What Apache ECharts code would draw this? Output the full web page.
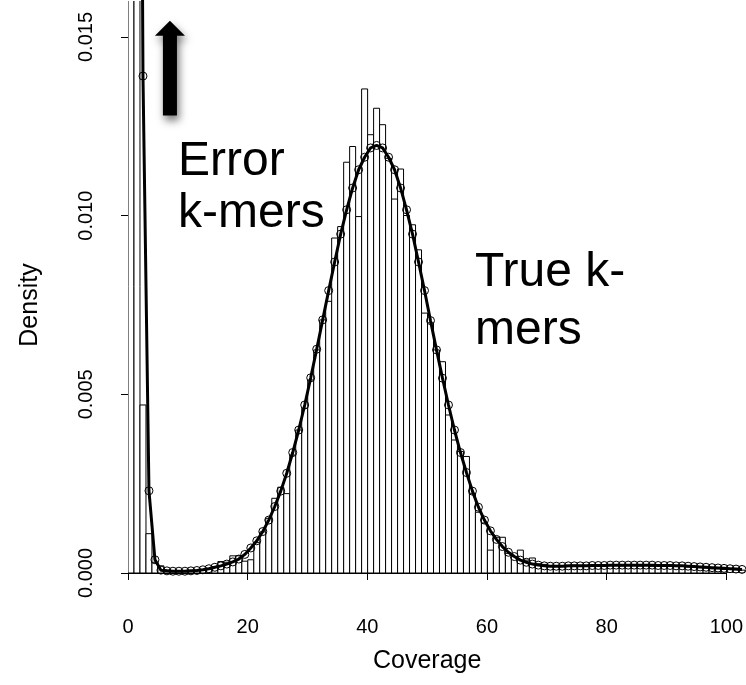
<!DOCTYPE html>
<html>
<head>
<meta charset="utf-8">
<script src="https://cdn.jsdelivr.net/npm/echarts@6/dist/echarts.min.js"></script>
<style>
html,body{margin:0;padding:0;background:#fff;}
#chart{width:746px;height:685px;}
</style>
</head>
<body>
<div id="chart"></div>
<script>
// Histogram bins: bin i spans [i, i+1) coverage
const barDensity = [
  0.09, 0.03, 0.0047, 0.0011, 0.0003, 0.0002, 0.00008, 0.00006, 0.00005, 0.00006,
  0.00007, 0.00008, 0.0001, 0.00013, 0.00018, 0.00032, 0.0003, 0.00048, 0.00048, 0.00033,
  0.00037, 0.00085, 0.00115, 0.00153, 0.00209, 0.0024, 0.00222, 0.0033, 0.0040, 0.00461,
  0.0054, 0.00624, 0.00708, 0.0076, 0.00937, 0.00969, 0.01149, 0.01193, 0.00997, 0.01354,
  0.01226, 0.0130, 0.01254, 0.0116, 0.01046, 0.0113, 0.0100, 0.00974, 0.00904, 0.00727,
  0.0070, 0.00624, 0.00591, 0.00442, 0.00372, 0.0034, 0.00326, 0.00223, 0.0017, 0.0014,
  0.00064, 0.0010, 0.0010, 0.00055, 0.00046, 0.00064, 0.00036, 0.00042, 0.00026, 0.00024,
  0.00019, 0.00021, 0.0002, 0.00018, 0.00022, 0.0002, 0.00021, 0.00019, 0.00022, 0.0002,
  0.00021, 0.00023, 0.0002, 0.00022, 0.00021, 0.0002, 0.00022, 0.00019, 0.00021, 0.0002,
  0.00019, 0.00018, 0.0002, 0.00017, 0.00016, 0.00015, 0.00014, 0.00012, 0.00012, 0.0001,
  0.0001, 0.00009, 0.00008
];
// Fitted model density at bin midpoints (i + 0.5)
const fitDensity = [
  0.12, 0.045, 0.0139, 0.0023, 0.00037, 0.00008, 0.00006, 0.00005, 0.00005, 0.00005,
  0.00006, 0.00007, 0.00009, 0.00012, 0.00016, 0.0002, 0.00025, 0.00031, 0.00039, 0.00052,
  0.0007, 0.0009, 0.00116, 0.00148, 0.00186, 0.00229, 0.00279, 0.00337, 0.004, 0.0047,
  0.00546, 0.00626, 0.00708, 0.0079, 0.0087, 0.00948, 0.01016, 0.01077, 0.01128, 0.01163,
  0.01189, 0.01196, 0.01189, 0.01163, 0.01128, 0.01077, 0.01016, 0.00948, 0.0087, 0.0079,
  0.00706, 0.00624, 0.00545, 0.0047, 0.004, 0.00337, 0.00281, 0.00229, 0.00184, 0.00148,
  0.00118, 0.00094, 0.00074, 0.00058, 0.00046, 0.00036, 0.0003, 0.00025, 0.00022, 0.0002,
  0.00019, 0.00019, 0.00019, 0.0002, 0.0002, 0.0002, 0.0002, 0.00021, 0.00021, 0.00021,
  0.00022, 0.00022, 0.00022, 0.00022, 0.00022, 0.00022, 0.00022, 0.00022, 0.00021, 0.00021,
  0.00021, 0.0002, 0.0002, 0.00019, 0.00018, 0.00017, 0.00016, 0.00015, 0.00014, 0.00013,
  0.00012, 0.00011, 0.0001
];
const xTicks = [0, 20, 40, 60, 80, 100];
const yTicks = [0, 0.005, 0.010, 0.015];
const xTitle = 'Coverage';
const yTitle = 'Density';
const annotations = [
  {lines: ['Error', 'k-mers']},
  {lines: ['True k-', 'mers']}
];

const FONT = '"Liberation Sans", Arial, Helvetica, sans-serif';
const chart = echarts.init(document.getElementById('chart'), null, {renderer: 'canvas'});

const histData = barDensity.map((d, i) => [i, i + 1, d]);
const fitData = fitDensity.map((d, i) => [i + 0.5, d]);

const option = {
  backgroundColor: '#fff',
  animation: false,
  grid: [
    {left: 128, right: 1, top: 1, bottom: 112},
    {left: 128, right: 19, top: 37, bottom: 112}
  ],
  xAxis: [
    {gridIndex: 0, type: 'value', min: 0, max: 103, show: false},
    {gridIndex: 1, type: 'value', min: xTicks[0], max: xTicks[xTicks.length - 1], interval: 20,
     offset: 25,
     axisLine: {show: true, lineStyle: {color: '#000', width: 1}},
     axisTick: {show: true, length: 7, lineStyle: {color: '#000', width: 1}},
     axisLabel: {color: '#000', fontSize: 20, fontFamily: FONT, margin: 19},
     splitLine: {show: false},
     name: xTitle, nameLocation: 'middle', nameGap: 51,
     nameTextStyle: {color: '#000', fontSize: 25, fontFamily: FONT}}
  ],
  yAxis: [
    {gridIndex: 0, type: 'value', min: 0, max: 0.016, show: false},
    {gridIndex: 1, type: 'value', min: yTicks[0], max: yTicks[yTicks.length - 1], interval: 0.005,
     offset: 15,
     axisLine: {show: true, lineStyle: {color: '#000', width: 1}},
     axisTick: {show: true, length: 7, lineStyle: {color: '#000', width: 1}},
     axisLabel: {color: '#000', fontSize: 20, fontFamily: FONT, rotate: 90, margin: 17,
                 formatter: v => v.toFixed(3)},
     splitLine: {show: false},
     name: yTitle, nameLocation: 'middle', nameGap: 70, nameRotate: 90,
     nameTextStyle: {color: '#000', fontSize: 25, fontFamily: FONT}}
  ],
  series: [
    {
      type: 'custom', xAxisIndex: 0, yAxisIndex: 0, clip: true,
      data: histData,
      encode: {x: [0, 1], y: 2},
      renderItem: function (params, api) {
        const p0 = api.coord([api.value(0), api.value(2)]);
        const p1 = api.coord([api.value(1), 0]);
        return {
          type: 'rect',
          shape: {x: p0[0], y: p0[1], width: p1[0] - p0[0], height: p1[1] - p0[1]},
          style: {fill: '#fff', stroke: '#000', lineWidth: 1}
        };
      },
      z: 1
    },
    {
      type: 'line', xAxisIndex: 0, yAxisIndex: 0, clip: true,
      data: fitData,
      symbol: 'circle', symbolSize: 8, showAllSymbol: true,
      lineStyle: {color: '#000', width: 3},
      itemStyle: {color: 'rgba(0,0,0,0)', borderColor: '#000', borderWidth: 1},
      z: 3
    }
  ]
};
chart.setOption(option);

// Annotations (arrow + labels) placed from data coordinates
const tip = chart.convertToPixel({gridIndex: 0}, [7.0, 0.01545]);
const tail = chart.convertToPixel({gridIndex: 0}, [7.0, 0.0128]);
const headBase = tip[1] + 15;
const cx = tip[0];
chart.setOption({
  graphic: [
    {
      type: 'polygon', z: 10,
      shape: {points: [
        [cx, tip[1]], [cx - 15, headBase], [cx - 7, headBase], [cx - 7, tail[1]],
        [cx + 7, tail[1]], [cx + 7, headBase], [cx + 15, headBase]
      ]},
      style: {fill: '#000', shadowBlur: 8, shadowColor: 'rgba(0,0,0,0.55)', shadowOffsetX: 2, shadowOffsetY: 5}
    },
    {type: 'text', z: 10, left: 178, top: 136,
     style: {text: annotations[0].lines.join('\n'), font: '48px ' + FONT, fill: '#000', lineHeight: 52}},
    {type: 'text', z: 10, left: 475, top: 244,
     style: {text: annotations[1].lines.join('\n'), font: '48px ' + FONT, fill: '#000', lineHeight: 58}}
  ]
});
</script>
</body>
</html>
